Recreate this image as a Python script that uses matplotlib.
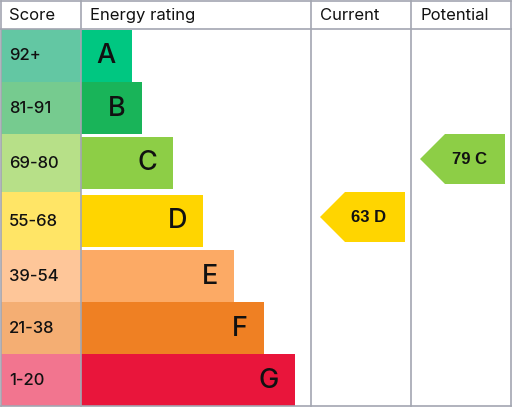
import matplotlib
matplotlib.use("Agg")
import matplotlib.pyplot as plt
from matplotlib.patches import Rectangle, Polygon

# ---- data ----
bands = ["A", "B", "C", "D", "E", "F", "G"]
score_ranges = ["92+", "81-91", "69-80", "55-68", "39-54", "21-38", "1-20"]
band_min = [92, 81, 69, 55, 39, 21, 1]
bar_colors = ["#00c781", "#19b459", "#8dce46", "#ffd500", "#fcaa65", "#ef8023", "#e9153b"]
score_colors = ["#63c7a3", "#76cb8f", "#b7e088", "#ffe566", "#fec699", "#f4ae73", "#f2758f"]
bar_lengths = [51, 61, 92, 122, 153, 183, 214]
headers = ["Score", "Energy rating", "Current", "Potential"]
current_score = 63
potential_score = 79

# ---- layout (pixels) ----
W, H = 512, 407
fig = plt.figure(figsize=(W / 100, H / 100), dpi=100)
ax = fig.add_axes([0, 0, 1, 1])
ax.set_xlim(0, W)
ax.set_ylim(H, 0)
ax.axis("off")

FONT = "Inter"
col_x = [1, 81, 311, 411, 511]
header_bottom = 29
row_edges = [29, 82, 134, 192, 250, 302, 354, 406]
bar_h = 52
grid_color = "#a3a6b1"

def band_index(score):
    for i, m in enumerate(band_min):
        if score >= m:
            return i
    return len(band_min) - 1

for i, b in enumerate(bands):
    top, bot = row_edges[i], row_edges[i + 1]
    cy = (top + bot) / 2
    ax.add_patch(Rectangle((col_x[0], top), col_x[1] - col_x[0], bot - top,
                           facecolor=score_colors[i], edgecolor="none", zorder=1))
    ax.text(col_x[0] + 8, cy + 0.5, score_ranges[i], fontsize=12, family=FONT,
            weight="medium", va="center", ha="left", color="#111111", zorder=3)
    ax.add_patch(Rectangle((col_x[1], cy - bar_h / 2), bar_lengths[i], bar_h,
                           facecolor=bar_colors[i], edgecolor="none", zorder=1))
    ax.text(col_x[1] + bar_lengths[i] - 16, cy + 0.5, b, fontsize=19.5, family=FONT,
            weight="medium", va="center", ha="right", color="#111111", zorder=3)

# header texts
hx = [9, 90, 320, 420]
for t, x in zip(headers, hx):
    ax.text(x, 15.5, t, fontsize=12, family=FONT, va="center", ha="left",
            color="#111111", zorder=3)

# grid lines
ax.plot([0, W], [header_bottom, header_bottom], color=grid_color, lw=1.2, zorder=4)
for x in col_x:
    ax.plot([x, x], [1, 406], color=grid_color, lw=1.2, zorder=4)
ax.plot([1, 511], [1, 1], color=grid_color, lw=1.2, zorder=4)
ax.plot([1, 511], [406, 406], color=grid_color, lw=1.2, zorder=4)

# arrows
def arrow(score, col):
    i = band_index(score)
    cy = (row_edges[i] + row_edges[i + 1]) / 2 - 4
    left = col_x[col] + 9
    right = col_x[col + 1] - 6
    h = 50
    pts = [(left, cy), (left + 25, cy - h / 2), (right, cy - h / 2),
           (right, cy + h / 2), (left + 25, cy + h / 2)]
    ax.add_patch(Polygon(pts, closed=True, facecolor=bar_colors[i],
                         edgecolor="none", zorder=2))
    ax.text((left + right) / 2 + 6.5, cy + 0.5, f"{score} {bands[i]}",
            fontsize=12, family="Liberation Sans", weight="bold",
            va="center", ha="center", color="#111111", zorder=3)

arrow(current_score, 2)
arrow(potential_score, 3)

fig.savefig("out.png", dpi=100)
